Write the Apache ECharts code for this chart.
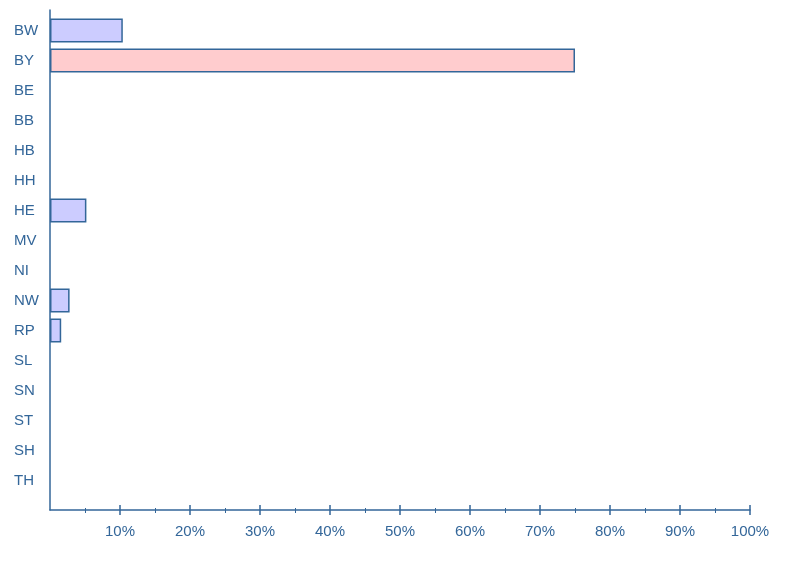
<!DOCTYPE html>
<html>
<head>
<meta charset="utf-8">
<script src="https://cdn.jsdelivr.net/npm/echarts@6/dist/echarts.min.js"></script>
<style>html,body{margin:0;padding:0;background:#fff}#c{width:800px;height:580px}</style>
</head>
<body>
<div id="c"></div>
<script>
const categories = ['BW','BY','BE','BB','HB','HH','HE','MV','NI','NW','RP','SL','SN','ST','SH','TH'];
const values = [10.4, 75, 0, 0, 0, 0, 5.2, 0, 0, 2.8, 1.6, 0, 0, 0, 0, 0];
const tickValues = [10, 20, 30, 40, 50, 60, 70, 80, 90, 100];
const highlightCategory = 'BY';

const C = '#336699';
const FONT = 'Liberation Sans, Arial, sans-serif';
const chart = echarts.init(document.getElementById('c'), null, {renderer: 'canvas'});
const xBase = {type: 'value', min: 0, max: 100, interval: 10, splitLine: {show: false}, position: 'bottom'};
chart.setOption({
  animation: false,
  grid: [
    {left: 50, right: 50, top: 10, height: 500},
    {left: 50, right: 50, top: 15.5, height: 480}
  ],
  xAxis: [
    Object.assign({}, xBase, {gridIndex: 0,
      axisLine: {show: true, lineStyle: {color: C, width: 1.5}},
      axisTick: {show: true, inside: true, length: 5, customValues: tickValues, lineStyle: {color: C, width: 1.5}},
      minorTick: {show: true, splitNumber: 2, length: 2, lineStyle: {color: C, width: 1}},
      axisLabel: {show: true, customValues: tickValues, formatter: '{value}%', color: C, fontFamily: FONT, fontSize: 15, margin: 14}
    }),
    Object.assign({}, xBase, {gridIndex: 0,
      axisLine: {show: false},
      axisTick: {show: true, inside: false, length: 5, customValues: tickValues, lineStyle: {color: C, width: 1.5}},
      minorTick: {show: true, splitNumber: 2, length: 3, lineStyle: {color: C, width: 1}},
      axisLabel: {show: false}
    }),
    Object.assign({}, xBase, {gridIndex: 1, show: false})
  ],
  yAxis: [
    {type: 'value', gridIndex: 0, min: 0, max: 1,
      axisLine: {show: true, lineStyle: {color: C, width: 1.5}},
      axisTick: {show: false}, axisLabel: {show: false}, splitLine: {show: false}},
    {type: 'category', gridIndex: 1, inverse: true, data: categories,
      axisLine: {show: false}, axisTick: {show: false}, splitLine: {show: false},
      axisLabel: {color: C, fontFamily: FONT, fontSize: 15, margin: 36, align: 'left', padding: [0, 0, 5, 0]}}
  ],
  series: [{
    type: 'bar',
    xAxisIndex: 2,
    yAxisIndex: 1,
    barWidth: 24,
    data: values.map((v, i) => ({
      value: v,
      itemStyle: {
        color: categories[i] === highlightCategory ? '#ffccce' : '#ccccff',
        borderColor: C,
        borderWidth: v > 0 ? 1.5 : 0
      }
    })),
    silent: true
  }]
});
</script>
</body>
</html>
